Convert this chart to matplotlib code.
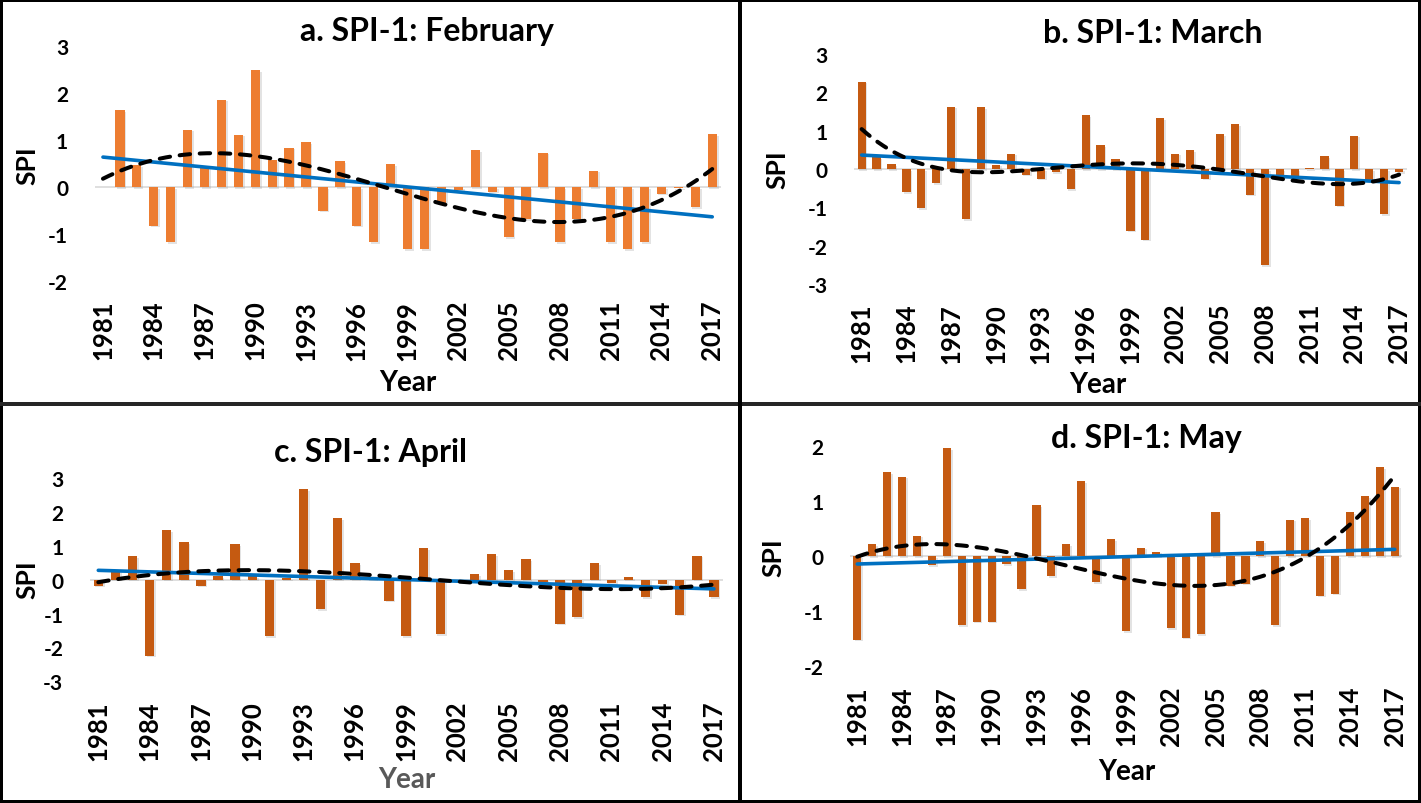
import numpy as np
import matplotlib
matplotlib.use("Agg")
import matplotlib.pyplot as plt
import matplotlib.patheffects as pe
from matplotlib.lines import Line2D

plt.rcParams["font.family"] = ["Lato", "DejaVu Sans"]
plt.rcParams["font.weight"] = "bold"

W, H = 1421, 804

years = np.arange(1981, 2018)
year_ticks = np.arange(1981, 2018, 3)

spi_feb = [0.0, 1.64, 0.46, -0.82, -1.18, 1.22, 0.42, 1.86, 1.11, 2.49,
           0.57, 0.84, 0.96, -0.50, 0.55, -0.82, -1.18, 0.48, -1.32, -1.32,
           -0.35, -0.07, 0.78, -0.10, -1.07, -0.68, 0.73, -1.18, -0.68, 0.35,
           -1.18, -1.32, -1.18, -0.14, -0.03, -0.43, 1.12]
spi_mar = [2.28, 0.31, 0.12, -0.61, -1.02, -0.37, 1.63, -1.30, 1.61, 0.11,
           0.40, -0.15, -0.25, -0.08, -0.52, 1.41, 0.63, 0.26, -1.61, -1.84,
           1.32, 0.40, 0.49, -0.25, 0.91, 1.17, -0.67, -2.50, -0.22, -0.22,
           0.03, 0.34, -0.96, 0.87, -0.30, -1.17, -0.08]
spi_apr = [-0.18, 0.26, 0.69, -2.24, 1.47, 1.11, -0.18, 0.10, 1.05, 0.10,
           -1.67, 0.05, 2.68, -0.87, 1.82, 0.49, 0.05, -0.62, -1.67, 0.93,
           -1.60, -0.03, 0.17, 0.76, 0.28, 0.61, -0.08, -1.30, -1.11, 0.49,
           -0.10, 0.08, -0.52, -0.14, -1.03, 0.71, -0.52]
spi_may = [-1.52, 0.22, 1.52, 1.44, 0.37, -0.17, 1.96, -1.25, -1.19, -1.19,
           -0.15, -0.60, 0.92, -0.36, 0.22, 1.36, -0.47, 0.30, -1.36, 0.15,
           0.08, -1.31, -1.48, -1.42, 0.80, -0.54, -0.50, 0.27, -1.25, 0.66,
           0.68, -0.72, -0.68, 0.80, 1.08, 1.61, 1.26]

panels = [
    # title, values, bar colour, poly order, ylim, yticks, box (left, right, top, bottom) px
    ("a. SPI-1: February", spi_feb, "#ED7D31", 3, (-2, 3), range(-2, 4), (94.5, 720.7, 47, 282)),
    ("b. SPI-1: March", spi_mar, "#C55A11", 4, (-3, 3), range(-3, 4), (854.2, 1406.6, 55, 285)),
    ("c. SPI-1: April", spi_apr, "#C55A11", 3, (-3, 3), range(-3, 4), (89.75, 722.5, 479, 682.3)),
    ("d. SPI-1: May", spi_may, "#C55A11", 3, (-2, 2), range(-2, 3), (849.8, 1402.2, 446.7, 667.3)),
]

# text positions in px: title (x centre, baseline), SPI (x, y centre), Year (x centre, baseline)
title_pos = [(427, 41), (1153, 43), (371, 462), (1146, 448)]
ylab_pos = [(27.5, 166), (777.5, 170), (27.5, 580), (773, 557.5)]
xlab_pos = [(407.5, 391.5), (1097.5, 393), (406.7, 788), (1126.7, 780)]
xlab_col = ["black", "black", "#595959", "black"]


def fx(px):
    return px / W


def fy(py):
    return 1 - py / H


fig = plt.figure(figsize=(W / 100, H / 100), dpi=100)

for i, (title, vals, col, order, ylim, yt, box) in enumerate(panels):
    l, r, t, b = box
    ax = fig.add_axes([fx(l), fy(b), fx(r - l), (b - t) / H])
    vals = np.array(vals)
    ax.axhline(0, color="#D9D9D9", lw=1.2, zorder=1)
    bars = ax.bar(years, vals, width=0.55, color=col, zorder=2)
    for bar in bars:
        bar.set_path_effects([pe.SimplePatchShadow(offset=(1.2, -1.2), shadow_rgbFace="#909090", alpha=0.25),
                              pe.Normal()])

    # Excel-style trendlines fitted on category index 1..37
    idx = np.arange(1, len(years) + 1)
    lin = np.polyfit(idx, vals, 1)
    poly = np.polyfit(idx, vals, order)
    xs = np.linspace(1, len(years), 300)
    ax.plot(years[0] + xs - 1, np.polyval(lin, xs), color="#0070C0", lw=2.6, zorder=3,
            solid_capstyle="round")
    ax.plot(years[0] + xs - 1, np.polyval(poly, xs), color="black", lw=2.9, zorder=4,
            linestyle=(0, (2.6, 2.4)), dash_capstyle="round")

    ax.set_xlim(1980.5, 2017.5)
    ax.set_ylim(*ylim)
    ax.set_yticks(list(yt))
    ax.set_xticks(year_ticks)
    ax.set_xticklabels([str(y) for y in year_ticks], rotation=90, fontsize=18.5, fontweight="bold")
    ax.set_yticklabels([str(v) for v in yt], fontsize=15, fontweight="bold")
    ax.tick_params(axis="y", length=0, pad=19)
    ax.tick_params(axis="x", length=0, pad=13.5)
    for s in ax.spines.values():
        s.set_visible(False)
    ax.patch.set_alpha(0)

    fig.text(fx(title_pos[i][0]), fy(title_pos[i][1]), title, ha="center", va="baseline",
             fontsize=23, fontweight="bold")
    fig.text(fx(ylab_pos[i][0]), fy(ylab_pos[i][1]), "SPI", ha="center", va="center",
             rotation=90, fontsize=19, fontweight="bold")
    fig.text(fx(xlab_pos[i][0]), fy(xlab_pos[i][1]), "Year", ha="center", va="baseline",
             fontsize=20, fontweight="bold", color=xlab_col[i])

# panel frames
lw_px = 4 * 0.72
fig.add_artist(plt.Rectangle((0, 0), 1, 1, transform=fig.transFigure, fill=False,
                             edgecolor="black", lw=6 * 0.72))
fig.add_artist(Line2D([0, 1], [fy(405), fy(405)], transform=fig.transFigure, color="#262626", lw=lw_px))
fig.add_artist(Line2D([fx(739.5), fx(739.5)], [1, fy(405)], transform=fig.transFigure, color="black", lw=lw_px))
fig.add_artist(Line2D([fx(740.5), fx(740.5)], [fy(405), 0], transform=fig.transFigure, color="black", lw=lw_px))

fig.savefig("out.png", dpi=100, facecolor="white")
